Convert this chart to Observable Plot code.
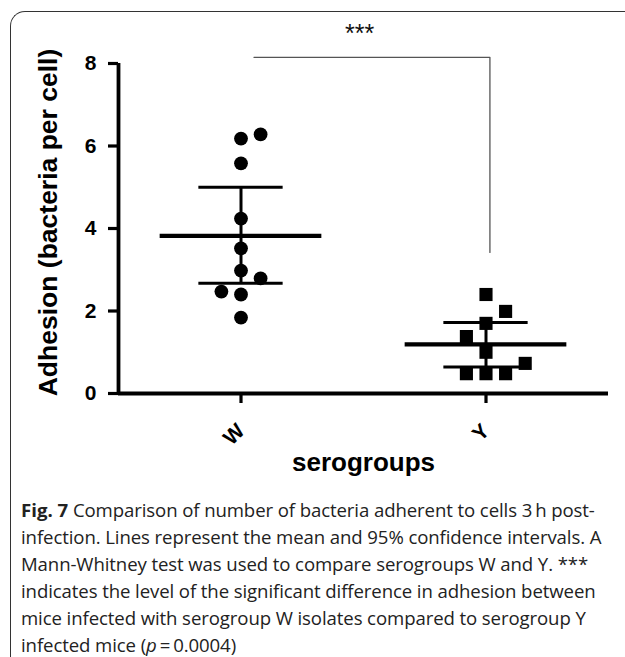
<!DOCTYPE html>
<html>
<head>
<meta charset="utf-8">
<script src="https://cdn.jsdelivr.net/npm/d3@7"></script>
<script src="https://cdn.jsdelivr.net/npm/@observablehq/plot@0.6"></script>
<style>
  html, body { margin: 0; padding: 0; background: #fff; }
  #page { position: relative; width: 625px; height: 657px; overflow: hidden; background: #fff; }
  #box { position: absolute; left: 10px; top: 11px; width: 700px; height: 700px;
         border-left: 1.5px solid #333; border-top: 1.5px solid #333; border-top-left-radius: 15px; }
  #chart { position: absolute; left: 0; top: 0; }
  #chart g[aria-label="y-axis tick label"] text { font-size: 21px !important; font-weight: bold !important; }
  #chart g[aria-label="x-axis tick label"] text { font-size: 21px !important; font-weight: bold !important; }
  #caption { position: absolute; left: 21px; top: 496px; font-family: "Open Sans", sans-serif;
             font-size: 18.6px; line-height: 27px; color: #222; white-space: nowrap; letter-spacing: -0.1px; }
  #caption b { font-weight: 700; letter-spacing: 0; }
</style>
</head>
<body>
<div id="page">
  <div id="box"></div>
  <div id="chart"></div>
  <div id="caption"></div>
</div>
<script>
// ---- data ----
const groups = ["W", "Y"];
const groupPos = [1, 2];
// serogroup W isolates (circles)
const wValues = [6.18, 6.28, 5.58, 4.24, 3.52, 2.98, 2.79, 2.47, 2.40, 1.84];
const wColumn = [0, 1, 0, 0, 0, 0, 1, -1, 0, 0];
// serogroup Y isolates (squares)
const yValues = [2.40, 1.99, 1.70, 1.38, 1.00, 0.73, 0.48, 0.48, 0.48];
const yColumn = [0, 1, 0, -1, 0, 2, -1, 0, 1];
// mean and 95% CI
const means = [3.82, 1.19];
const ciLow = [2.67, 0.64];
const ciHigh = [5.00, 1.72];
const yTicks = [0, 2, 4, 6, 8];
// significance bracket
const bracketX = [1.053, 2.016];
const bracketY = [8.15, 3.42];
const sigLabel = "***";
const sigY = 8.72;
const yLabel = "Adhesion (bacteria per cell)";
const xLabel = "serogroups";
const captionLines = [
  "<b>Fig. 7</b> Comparison of number of bacteria adherent to cells 3\u2009h post-",
  "infection. Lines represent the mean and 95% confidence intervals. A",
  "Mann-Whitney test was used to compare serogroups W and Y. ***",
  "indicates the level of the significant difference in adhesion between",
  "mice infected with serogroup W isolates compared to serogroup Y",
  "infected mice (<i>p</i>\u2009=\u20090.0004)"
];

// ---- build tables ----
const step = 0.08;
const wPts = wValues.map((v, i) => ({x: groupPos[0] + wColumn[i] * step, y: v}));
const yPts = yValues.map((v, i) => ({x: groupPos[1] + yColumn[i] * step, y: v}));
const stats = groups.map((g, i) => ({x: groupPos[i], mean: means[i], lo: ciLow[i], hi: ciHigh[i]}));
const bracket = [
  {x: bracketX[0], y: bracketY[0]},
  {x: bracketX[1], y: bracketY[0]},
  {x: bracketX[1], y: bracketY[1]}
];

const font = "'Liberation Sans', Arial, sans-serif";

const chart = Plot.plot({
  width: 625,
  height: 490,
  marginLeft: 118,
  marginRight: 17,
  marginTop: 63,
  marginBottom: 97,
  style: {fontFamily: font, color: "#000", background: "transparent", overflow: "visible"},
  x: {domain: [0.5, 2.5], axis: null},
  y: {domain: [0, 8], axis: null},
  marks: [
    Plot.axisY({ticks: yTicks, tickSize: 10, tickPadding: 12, strokeWidth: 3.2, fontSize: 21, fontWeight: "bold", label: null}),
    Plot.axisX({ticks: groupPos, tickFormat: d => groups[d - 1], tickSize: 10, tickPadding: 24, strokeWidth: 3.2,
                tickRotate: -45, fontSize: 21, fontWeight: "bold", label: null}),
    Plot.ruleX([0.5], {strokeWidth: 3.8}),
    Plot.ruleY([0], {strokeWidth: 3.8}),
    Plot.text([yLabel], {frameAnchor: "left", textAnchor: "middle", dx: -70, dy: -6, rotate: -90, fontSize: 26.5, fontWeight: "bold"}),
    Plot.text([xLabel], {frameAnchor: "bottom", dy: 77, fontSize: 26, fontWeight: "bold"}),
    Plot.line(bracket, {x: "x", y: "y", stroke: "#555", strokeWidth: 1.3}),
    Plot.text([sigLabel], {x: d => (bracketX[0] + bracketX[1]) / 2 - 0.05, y: sigY, fontSize: 25, fill: "#111"}),
    Plot.dot(wPts, {x: "x", y: "y", r: 6.9, fill: "#000", stroke: null, symbol: "circle"}),
    Plot.dot(yPts, {x: "x", y: "y", r: 7.4, fill: "#000", stroke: null, symbol: "square"}),
    Plot.ruleY(stats, {y: "mean", x1: d => d.x - 0.33, x2: d => d.x + 0.33, strokeWidth: 4.2}),
    Plot.ruleY(stats, {y: "hi", x1: d => d.x - 0.172, x2: d => d.x + 0.172, strokeWidth: 3}),
    Plot.ruleY(stats, {y: "lo", x1: d => d.x - 0.172, x2: d => d.x + 0.172, strokeWidth: 3}),
    Plot.ruleX(stats, {x: "x", y1: "lo", y2: "hi", strokeWidth: 3})
  ]
});
document.getElementById("chart").appendChild(chart);
document.getElementById("caption").innerHTML = captionLines.map(l => `<div>${l}</div>`).join("");
</script>
</body>
</html>
